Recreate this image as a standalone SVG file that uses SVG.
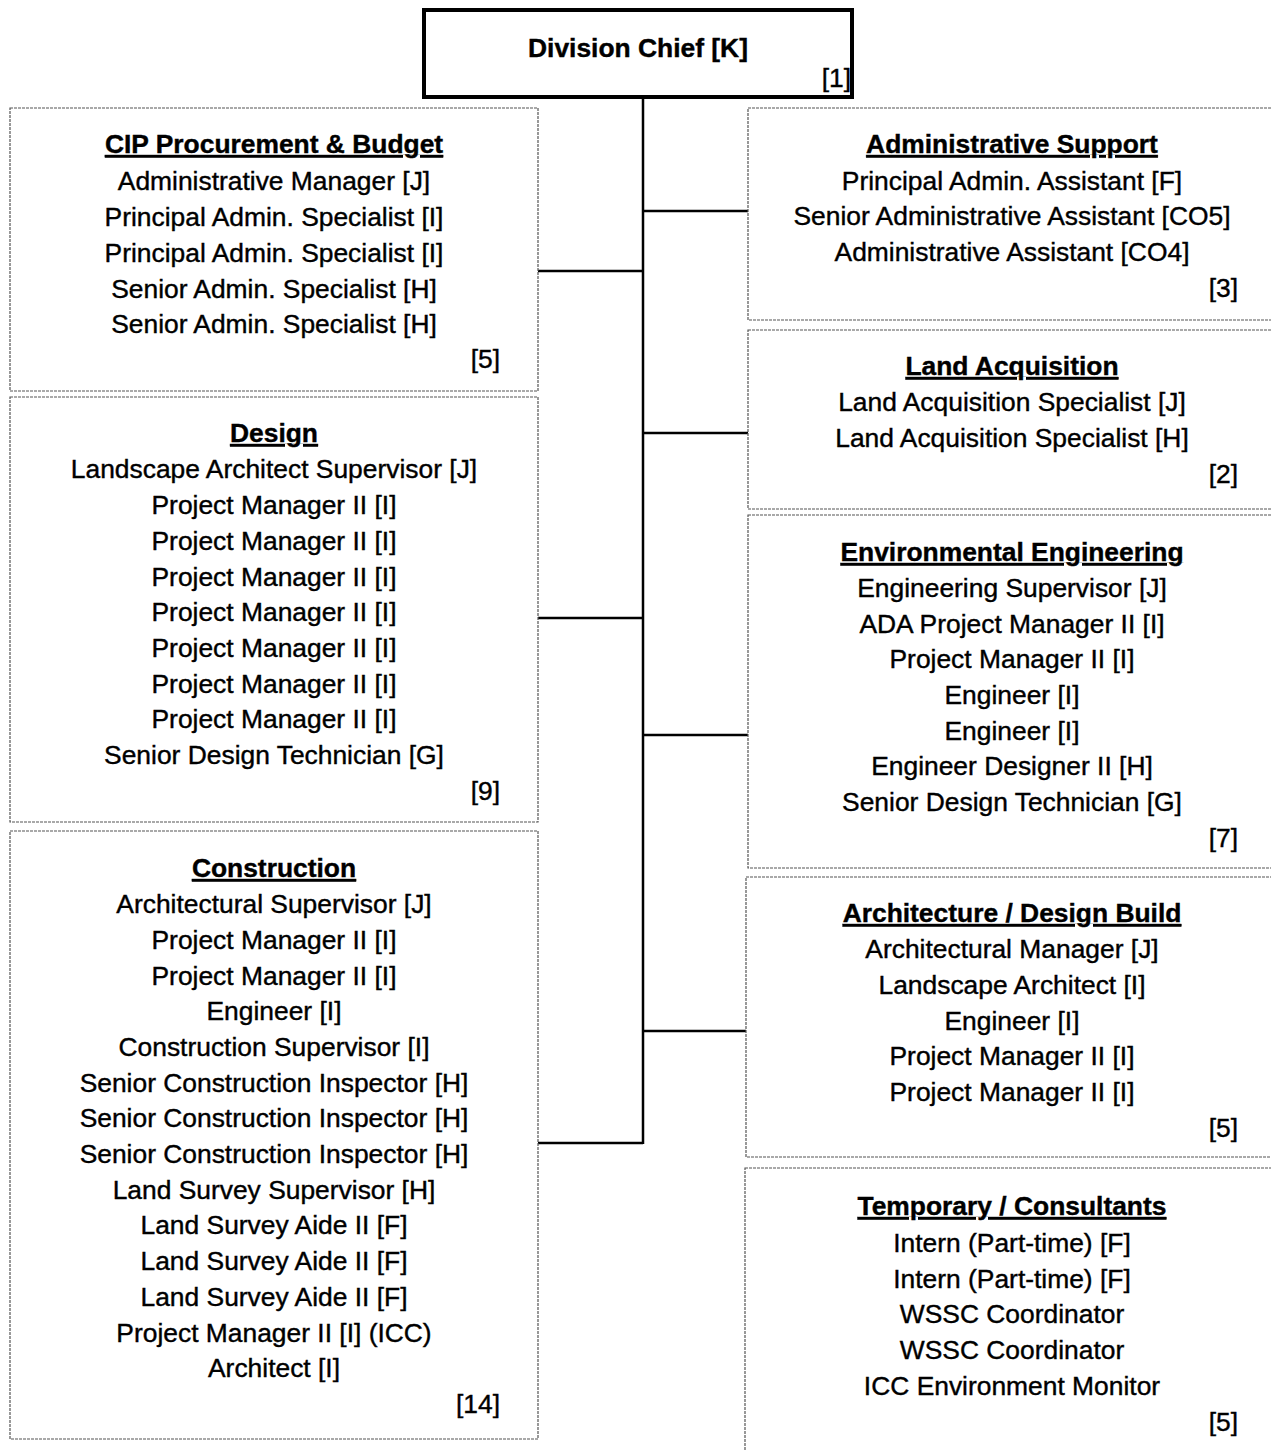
<svg xmlns="http://www.w3.org/2000/svg" width="1271" height="1451" viewBox="0 0 1271 1451">
  <style>
    .box { fill: #fff; stroke: #555; stroke-width: 1.2; stroke-dasharray: 3 1; }
    .chief { fill: #fff; stroke: #000; stroke-width: 4; }
    .wire { stroke: #000; stroke-width: 2.5; fill: none; }
    text { font-family: "Liberation Sans", Arial, sans-serif; font-size: 26.4px; fill: #000; stroke: #000; stroke-width: 0.4; }
    .t { font-weight: bold; text-decoration: underline; text-anchor: middle; }
    .i { text-anchor: middle; }
    .n { text-anchor: end; }
    .h { font-weight: bold; text-anchor: middle; }
  </style>

  <!-- connectors -->
  <g id="connectors">
    <line class="wire" x1="643" y1="97" x2="643" y2="1144" stroke-width="3"/>
    <line class="wire" x1="538" y1="271" x2="643" y2="271"/>
    <line class="wire" x1="538" y1="618" x2="643" y2="618"/>
    <line class="wire" x1="538" y1="1143" x2="643" y2="1143"/>
    <line class="wire" x1="643" y1="211" x2="748" y2="211"/>
    <line class="wire" x1="643" y1="433" x2="748" y2="433"/>
    <line class="wire" x1="643" y1="735" x2="748" y2="735"/>
    <line class="wire" x1="643" y1="1031" x2="746" y2="1031"/>
  </g>

  <!-- head of division -->
  <g id="division-chief">
    <rect class="chief" x="424" y="10" width="428" height="87"/>
    <text class="h" x="638" y="57">Division Chief [K]</text>
    <text class="n" x="851" y="87">[1]</text>
  </g>

  <g id="cip-procurement">
    <rect class="box" x="10" y="108" width="528" height="283"/>
    <text class="t" x="274" y="153">CIP Procurement &amp; Budget</text>
    <text class="i" x="274" y="190">Administrative Manager [J]</text>
    <text class="i" x="274" y="226">Principal Admin. Specialist [I]</text>
    <text class="i" x="274" y="262">Principal Admin. Specialist [I]</text>
    <text class="i" x="274" y="298">Senior Admin. Specialist [H]</text>
    <text class="i" x="274" y="333">Senior Admin. Specialist [H]</text>
    <text class="n" x="500" y="368">[5]</text>
  </g>

  <g id="design">
    <rect class="box" x="10" y="397" width="528" height="425"/>
    <text class="t" x="274" y="442">Design</text>
    <text class="i" x="274" y="478">Landscape Architect Supervisor [J]</text>
    <text class="i" x="274" y="514">Project Manager II [I]</text>
    <text class="i" x="274" y="550">Project Manager II [I]</text>
    <text class="i" x="274" y="586">Project Manager II [I]</text>
    <text class="i" x="274" y="621">Project Manager II [I]</text>
    <text class="i" x="274" y="657">Project Manager II [I]</text>
    <text class="i" x="274" y="693">Project Manager II [I]</text>
    <text class="i" x="274" y="728">Project Manager II [I]</text>
    <text class="i" x="274" y="764">Senior Design Technician [G]</text>
    <text class="n" x="500" y="800">[9]</text>
  </g>

  <g id="construction">
    <rect class="box" x="10" y="831" width="528" height="608"/>
    <text class="t" x="274" y="877">Construction</text>
    <text class="i" x="274" y="913">Architectural Supervisor [J]</text>
    <text class="i" x="274" y="949">Project Manager II [I]</text>
    <text class="i" x="274" y="985">Project Manager II [I]</text>
    <text class="i" x="274" y="1020">Engineer [I]</text>
    <text class="i" x="274" y="1056">Construction Supervisor [I]</text>
    <text class="i" x="274" y="1092">Senior Construction Inspector [H]</text>
    <text class="i" x="274" y="1127">Senior Construction Inspector [H]</text>
    <text class="i" x="274" y="1163">Senior Construction Inspector [H]</text>
    <text class="i" x="274" y="1199">Land Survey Supervisor [H]</text>
    <text class="i" x="274" y="1234">Land Survey Aide II [F]</text>
    <text class="i" x="274" y="1270">Land Survey Aide II [F]</text>
    <text class="i" x="274" y="1306">Land Survey Aide II [F]</text>
    <text class="i" x="274" y="1342">Project Manager II [I] (ICC)</text>
    <text class="i" x="274" y="1377">Architect [I]</text>
    <text class="n" x="500" y="1413">[14]</text>
  </g>

  <g id="administrative-support">
    <rect class="box" x="748" y="108" width="530" height="212"/>
    <text class="t" x="1012" y="153">Administrative Support</text>
    <text class="i" x="1012" y="190">Principal Admin. Assistant [F]</text>
    <text class="i" x="1012" y="225">Senior Administrative Assistant [CO5]</text>
    <text class="i" x="1012" y="261">Administrative Assistant [CO4]</text>
    <text class="n" x="1238" y="297">[3]</text>
  </g>

  <g id="land-acquisition">
    <rect class="box" x="748" y="330" width="530" height="179"/>
    <text class="t" x="1012" y="375">Land Acquisition</text>
    <text class="i" x="1012" y="411">Land Acquisition Specialist [J]</text>
    <text class="i" x="1012" y="447">Land Acquisition Specialist [H]</text>
    <text class="n" x="1238" y="483">[2]</text>
  </g>

  <g id="environmental-engineering">
    <rect class="box" x="748" y="515" width="530" height="353"/>
    <text class="t" x="1012" y="561">Environmental Engineering</text>
    <text class="i" x="1012" y="597">Engineering Supervisor [J]</text>
    <text class="i" x="1012" y="633">ADA Project Manager II [I]</text>
    <text class="i" x="1012" y="668">Project Manager II [I]</text>
    <text class="i" x="1012" y="704">Engineer [I]</text>
    <text class="i" x="1012" y="740">Engineer [I]</text>
    <text class="i" x="1012" y="775">Engineer Designer II [H]</text>
    <text class="i" x="1012" y="811">Senior Design Technician [G]</text>
    <text class="n" x="1238" y="847">[7]</text>
  </g>

  <g id="architecture-design-build">
    <rect class="box" x="746" y="877" width="532" height="280"/>
    <text class="t" x="1012" y="922">Architecture / Design Build</text>
    <text class="i" x="1012" y="958">Architectural Manager [J]</text>
    <text class="i" x="1012" y="994">Landscape Architect [I]</text>
    <text class="i" x="1012" y="1030">Engineer [I]</text>
    <text class="i" x="1012" y="1065">Project Manager II [I]</text>
    <text class="i" x="1012" y="1101">Project Manager II [I]</text>
    <text class="n" x="1238" y="1137">[5]</text>
  </g>

  <g id="temporary-consultants">
    <rect class="box" x="745" y="1168" width="533" height="300"/>
    <text class="t" x="1012" y="1215">Temporary / Consultants</text>
    <text class="i" x="1012" y="1252">Intern (Part-time) [F]</text>
    <text class="i" x="1012" y="1288">Intern (Part-time) [F]</text>
    <text class="i" x="1012" y="1323">WSSC Coordinator</text>
    <text class="i" x="1012" y="1359">WSSC Coordinator</text>
    <text class="i" x="1012" y="1395">ICC Environment Monitor</text>
    <text class="n" x="1238" y="1431">[5]</text>
  </g>
</svg>
